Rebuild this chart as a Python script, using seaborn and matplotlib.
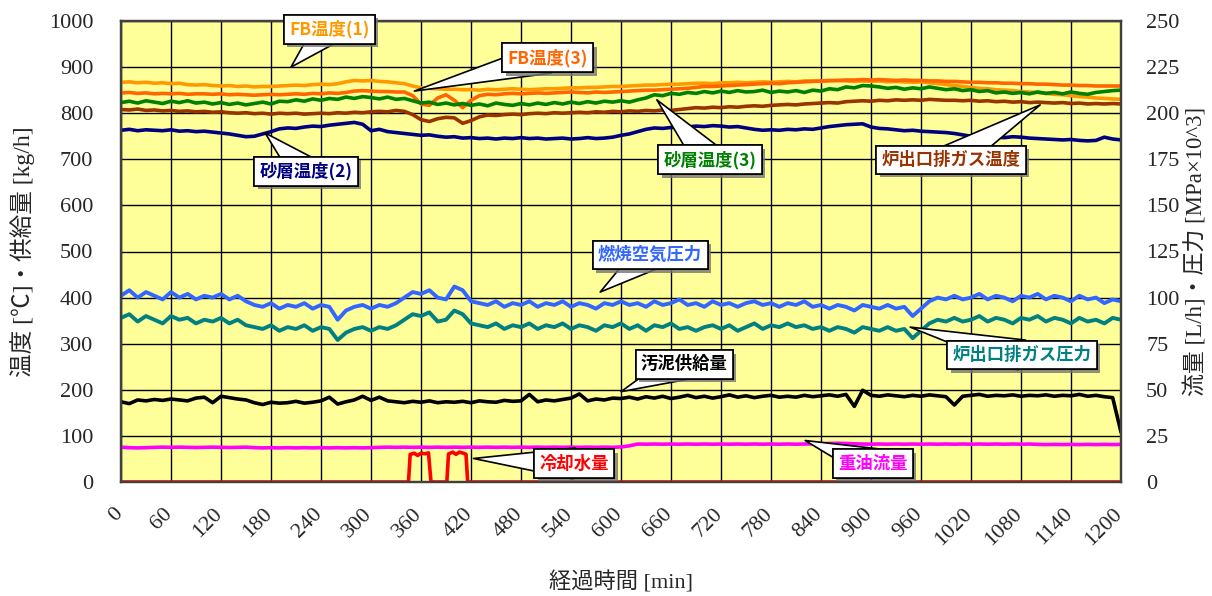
import numpy as np
import matplotlib
matplotlib.use("Agg")
import matplotlib.pyplot as plt
import matplotlib.patheffects as pe
import matplotlib.transforms as mtransforms
import seaborn as sns

# Elapsed time [min], sampled every 10 minutes
minutes = np.arange(0, 1201, 10)

# ---- left axis: temperatures [degC] and sludge feed [kg/h] ----
fb_temp_1 = [
    867, 868, 866, 867, 865, 866, 864, 865, 862, 861,
    862, 860, 859, 860, 858, 859, 857, 858, 858, 859,
    860, 861, 860, 862, 863, 862, 864, 868, 871, 870,
    871, 869, 868, 866, 864, 859, 855, 854, 853, 852,
    852, 851, 851, 850, 852, 851, 852, 853, 852, 851,
    852, 853, 853, 854, 855, 855, 856, 856, 857, 858,
    858, 859, 860, 861, 861, 862, 863, 863, 864, 865,
    865, 864, 866, 866, 867, 866, 867, 868, 867, 868,
    869, 868, 870, 870, 869, 870, 871, 870, 869, 870,
    869, 870, 868, 869, 868, 867, 868, 866, 864, 862,
    860, 858, 856, 854, 853, 851, 850, 849, 847, 846,
    845, 843, 841, 840, 838, 836, 835, 833, 832, 831,
    830]

fb_temp_3 = [
    844, 845, 843, 844, 842, 843, 842, 843, 841, 842,
    842, 841, 842, 840, 841, 840, 839, 840, 841, 840,
    841, 842, 841, 843, 842, 844, 843, 845, 848, 849,
    848, 847, 847, 846, 846, 838, 820, 817, 833, 840,
    828, 812, 828, 838, 841, 840, 842, 843, 842, 843,
    844, 843, 844, 845, 846, 845, 844, 846, 845, 846,
    847, 848, 849, 850, 850, 851, 852, 853, 854, 856,
    858, 858, 859, 860, 861, 862, 863, 864, 865, 864,
    866, 867, 868, 869, 870, 871, 871, 872, 872, 873,
    872, 873, 872, 871, 872, 871, 871, 870, 870, 869,
    869, 868, 867, 867, 866, 866, 865, 865, 864, 864,
    863, 863, 862, 861, 861, 860, 860, 859, 859, 859,
    859]

sand_temp_3 = [
    823, 826, 822, 827, 824, 821, 826, 823, 827, 822,
    824, 820, 823, 819, 822, 818, 821, 824, 820, 826,
    825, 829, 826, 831, 828, 832, 830, 835, 832, 836,
    834, 831, 835, 830, 832, 827, 822, 824, 819, 822,
    818, 821, 817, 820, 816, 822, 819, 817, 821, 818,
    822, 819, 823, 820, 824, 821, 825, 822, 826, 824,
    827, 824, 829, 833, 840, 838, 843, 841, 845, 843,
    847, 844, 848, 845, 849, 846, 847, 850, 845, 848,
    846, 849, 845, 850, 848, 853, 851, 857, 855, 860,
    859, 857, 854, 856, 852, 855, 853, 857, 854, 851,
    853, 849, 851, 847, 849, 844, 846, 843, 845, 842,
    846, 843, 845, 842, 846, 843, 841, 845, 847, 849,
    850]

exhaust_temp = [
    808, 807, 809, 806, 807, 805, 806, 804, 805, 803,
    804, 802, 803, 801, 800, 801, 799, 800, 798, 800,
    799, 800, 798, 799, 800, 799, 801, 800, 802, 801,
    803, 804, 803, 806, 804, 797, 786, 782, 788, 791,
    790, 778, 784, 792, 796, 795, 797, 798, 797, 799,
    800, 799, 801, 800, 801, 802, 801, 803, 802, 804,
    803, 805, 804, 806, 805, 807, 806, 808, 810, 812,
    811, 813, 812, 814, 813, 815, 816, 815, 817, 818,
    819, 818, 820, 821, 822, 823, 822, 825, 826, 827,
    826, 828, 827, 829, 828, 829, 828, 830, 829, 828,
    828, 827, 828, 826, 827, 825, 826, 824, 825, 823,
    824, 823, 822, 823, 821, 822, 820, 821, 820, 821,
    820]

sand_temp_2 = [
    763, 765, 762, 764, 763, 762, 764, 761, 762, 760,
    761, 759, 757, 755, 752, 749, 750, 755, 760, 766,
    768, 767, 770, 772, 771, 774, 776, 778, 780, 776,
    762, 765, 760, 758, 756, 754, 752, 753, 750, 748,
    749, 746, 747, 745, 746, 744, 746, 745, 747, 745,
    746, 744, 745, 746, 744, 745, 747, 745, 746, 748,
    752, 755, 760, 765, 768, 767, 769, 771, 770, 772,
    771, 773, 772, 770, 771, 768, 765, 763, 764, 763,
    765, 764, 766, 765, 768, 771, 773, 775, 776, 777,
    770, 767, 766, 764, 762, 763, 761, 760, 759, 758,
    756, 753, 750, 748, 749, 748, 747, 749, 748, 746,
    745, 744, 743, 742, 743, 741, 740, 741, 748, 744,
    742]

sludge_feed = [
    174, 170, 178, 176, 179, 177, 180, 178, 176, 182,
    184, 172, 186, 183, 180, 178, 172, 168, 173, 171,
    172, 175, 171, 173, 176, 184, 169, 174, 178, 186,
    177, 184, 176, 174, 172, 175, 173, 176, 172, 174,
    173, 175, 172, 176, 174, 173, 177, 175, 176, 190,
    174, 178, 176, 179, 182, 191, 176, 180, 178, 182,
    181, 184, 180, 185, 182, 186, 181, 184, 188, 183,
    186, 182, 185, 189, 184, 187, 183, 186, 188, 184,
    186, 184, 188, 185, 187, 189, 186, 190, 164, 199,
    188, 186, 189, 187, 185, 188, 186, 189, 187, 185,
    167, 186, 188, 190, 186, 188, 187, 189, 186, 188,
    187, 189, 186, 188, 187, 190, 186, 188, 185, 183,
    108]

# ---- right axis: flow [L/h] and pressure [MPa x 10^3] ----
air_pressure = [
    101, 104, 100, 103, 101, 99, 103, 100, 102, 99,
    101, 100, 102, 99, 101, 98, 96, 95, 97, 94,
    96, 95, 97, 94, 96, 95, 88, 93, 95, 96,
    94, 96, 95, 97, 100, 103, 102, 104, 100, 99,
    106, 104, 98, 97, 96, 98, 95, 97, 96, 98,
    95, 97, 96, 98, 95, 97, 96, 94, 97, 96,
    98, 96, 97, 95, 98, 96, 97, 99, 96, 97,
    95, 98, 96, 97, 95, 97, 98, 96, 97, 95,
    97, 96, 98, 95, 96, 94, 96, 95, 93, 96,
    95, 94, 96, 94, 95, 90, 94, 98, 100, 99,
    101, 99, 100, 102, 99, 101, 100, 98, 101, 100,
    102, 99, 101, 100, 98, 101, 99, 100, 97, 99,
    98]

exhaust_pressure = [
    89, 91, 87, 90, 88, 86, 90, 88, 89, 86,
    88, 87, 89, 86, 88, 85, 84, 83, 85, 82,
    84, 83, 85, 82, 84, 83, 77, 81, 83, 84,
    82, 84, 83, 85, 88, 91, 90, 92, 87, 88,
    93, 91, 86, 85, 84, 86, 83, 85, 84, 86,
    83, 85, 84, 86, 83, 85, 84, 82, 85, 84,
    86, 83, 85, 82, 85, 84, 86, 83, 84, 82,
    84, 85, 83, 85, 82, 84, 86, 83, 85, 84,
    86, 84, 85, 83, 84, 82, 84, 83, 81, 84,
    83, 82, 84, 82, 83, 78, 82, 86, 88, 87,
    89, 87, 88, 90, 87, 89, 88, 86, 89, 88,
    90, 87, 89, 88, 86, 89, 87, 88, 86, 89,
    88]

heavy_oil_flow = [
    18.9, 18.6, 18.5, 18.6, 18.8, 18.9, 18.8, 18.9, 18.8, 18.7,
    18.8, 18.9, 18.8, 18.7, 18.8, 18.9, 18.6, 18.5, 18.6, 18.5,
    18.6, 18.5, 18.6, 18.5, 18.6, 18.5, 18.6, 18.5, 18.6, 18.5,
    18.6, 18.8, 18.9, 18.8, 18.9, 18.8, 18.9, 18.8, 18.9, 18.8,
    18.9, 18.8, 18.9, 18.8, 18.9, 18.8, 18.9, 18.8, 18.9, 18.8,
    18.9, 18.8, 18.9, 18.8, 18.9, 18.8, 18.9, 18.8, 18.9, 18.8,
    19.0, 19.6, 20.6, 20.5, 20.6, 20.5, 20.6, 20.5, 20.6, 20.5,
    20.6, 20.5, 20.6, 20.5, 20.6, 20.5, 20.6, 20.5, 20.6, 20.5,
    20.6, 20.5, 20.6, 20.7, 20.8, 20.9, 21.0, 20.9, 20.7, 20.6,
    20.5, 20.6, 20.5, 20.6, 20.5, 20.6, 20.5, 20.6, 20.5, 20.6,
    20.5, 20.6, 20.5, 20.6, 20.5, 20.6, 20.5, 20.6, 20.5, 20.6,
    20.4, 20.3, 20.4, 20.3, 20.4, 20.3, 20.4, 20.3, 20.4, 20.3,
    20.4]

# Cooling water flow: zero except for two short injections
cooling_minutes = [0, 345, 347, 352, 356, 360, 365, 369, 372,
                   391, 393, 398, 402, 406, 411, 414, 416, 1200]
cooling_water = [0.0, 0.0, 15.0, 15.6, 14.4, 15.6, 15.3, 15.8, 0.0,
                 0.0, 15.2, 16.2, 15.0, 16.2, 15.6, 15.0, 0.0, 0.0]

x_ticks = list(range(0, 1201, 60))
left_ticks = list(range(0, 1001, 100))
right_ticks = list(range(0, 251, 25))

sns.set_style("white")
plt.rcParams['font.family'] = ['Liberation Serif', 'Noto Sans CJK JP']
plt.rcParams['axes.unicode_minus'] = False

fig = plt.figure(figsize=(12.12, 5.96), dpi=100)
ax = fig.add_axes([121 / 1212, 1 - 482 / 596, 1000 / 1212, 461 / 596])
ax.set_facecolor('#FFFF99')
ax2 = ax.twinx()
ax2.patch.set_visible(False)

left_lines = [
    (fb_temp_1, '#FF9900', 2.6),
    (fb_temp_3, '#FF6600', 2.6),
    (sand_temp_3, '#008000', 2.6),
    (exhaust_temp, '#993300', 2.6),
    (sand_temp_2, '#000080', 2.6),
    (sludge_feed, '#000000', 2.6),
]
for vals, col, lw in left_lines:
    sns.lineplot(x=minutes, y=vals, color=col, lw=lw, ax=ax, legend=False)

right_lines = [
    (minutes, heavy_oil_flow, '#FF00FF', 2.6),
    (minutes, exhaust_pressure, '#008080', 2.8),
    (minutes, air_pressure, '#3366FF', 2.8),
    (cooling_minutes, cooling_water, '#FF0000', 2.6),
]
for xs, vals, col, lw in right_lines:
    sns.lineplot(x=xs, y=vals, color=col, lw=lw, ax=ax2, legend=False)

ax.set_xlim(0, 1200)
ax.set_ylim(0, 1000)
ax2.set_ylim(0, 250)
ax.set_xticks(x_ticks)
ax.set_yticks(left_ticks)
ax2.set_yticks(right_ticks)
ax.grid(True, color='black', lw=1.0)
ax.set_axisbelow(True)

tick_font = dict(family='Liberation Serif', size=16)
ax.set_xticklabels([str(v) for v in x_ticks], rotation=45, ha='right',
                   rotation_mode='anchor', fontdict=tick_font)
ax.set_yticklabels([str(v) for v in left_ticks], fontdict=tick_font)
ax2.set_yticklabels([str(v) for v in right_ticks], fontdict=tick_font)
ax.tick_params(axis='x', length=0, pad=16)
ax.tick_params(axis='y', length=0, pad=20)
ax2.tick_params(axis='y', length=0, pad=18)

# nudge the slanted time labels a little to the left of their grid lines
shift = mtransforms.ScaledTranslation(-8 / 100, 0, fig.dpi_scale_trans)
for lbl in ax.get_xticklabels():
    lbl.set_transform(lbl.get_transform() + shift)

for a in (ax, ax2):
    for s in a.spines.values():
        s.set_color('#404040')
        s.set_linewidth(1.6)

label_family = ['Liberation Serif', 'Noto Sans CJK JP']
ax.set_ylabel('温度 [℃]・供給量 [kg/h]', family=label_family, fontsize=17, labelpad=10)
ax2.set_ylabel('流量 [L/h]・圧力 [MPa×10^3]', family=label_family, fontsize=16.5, labelpad=4)
ax.set_xlabel('経過時間 [min]', family=label_family, fontsize=16, labelpad=16)


def callout(text, tip, box, color):
    ann = ax2.annotate(
        text, xy=tip, xytext=box, xycoords=ax.transData, textcoords=ax.transData,
        ha='center', va='center', fontsize=12.5, fontweight='bold', color=color,
        family=['Noto Sans CJK JP'],
        bbox=dict(boxstyle='square,pad=0.3', fc='white', ec='black', lw=1.2),
        arrowprops=dict(arrowstyle='wedge,tail_width=1.8,shrink_factor=0.5',
                        fc='white', ec='black', lw=1.2, patchA=None,
                        shrinkA=0, shrinkB=0))
    ann.get_bbox_patch().set_path_effects([
        pe.withSimplePatchShadow(offset=(2.5, -2.5), shadow_rgbFace='0.45', alpha=0.8),
        pe.Normal()])
    return ann


callout('FB温度(1)', (204, 900), (250, 982), '#FF9900')
callout('FB温度(3)', (352, 848), (512, 920), '#FF6600')
callout('砂層温度(2)', (173, 757), (222, 674), '#000080')
callout('砂層温度(3)', (643, 829), (707, 699), '#008000')
callout('炉出口排ガス温度', (1103, 818), (996, 699), '#993300')
callout('燃焼空気圧力', (575, 412), (635, 492), '#3366FF')
callout('炉出口排ガス圧力', (947, 336), (1081, 275), '#008080')
callout('汚泥供給量', (600, 196), (676, 255), '#000000')
callout('冷却水量', (423, 51), (544, 40), '#FF0000')
callout('重油流量', (821, 90), (902, 40), '#FF00FF')

fig.savefig('out.png', dpi=100)
